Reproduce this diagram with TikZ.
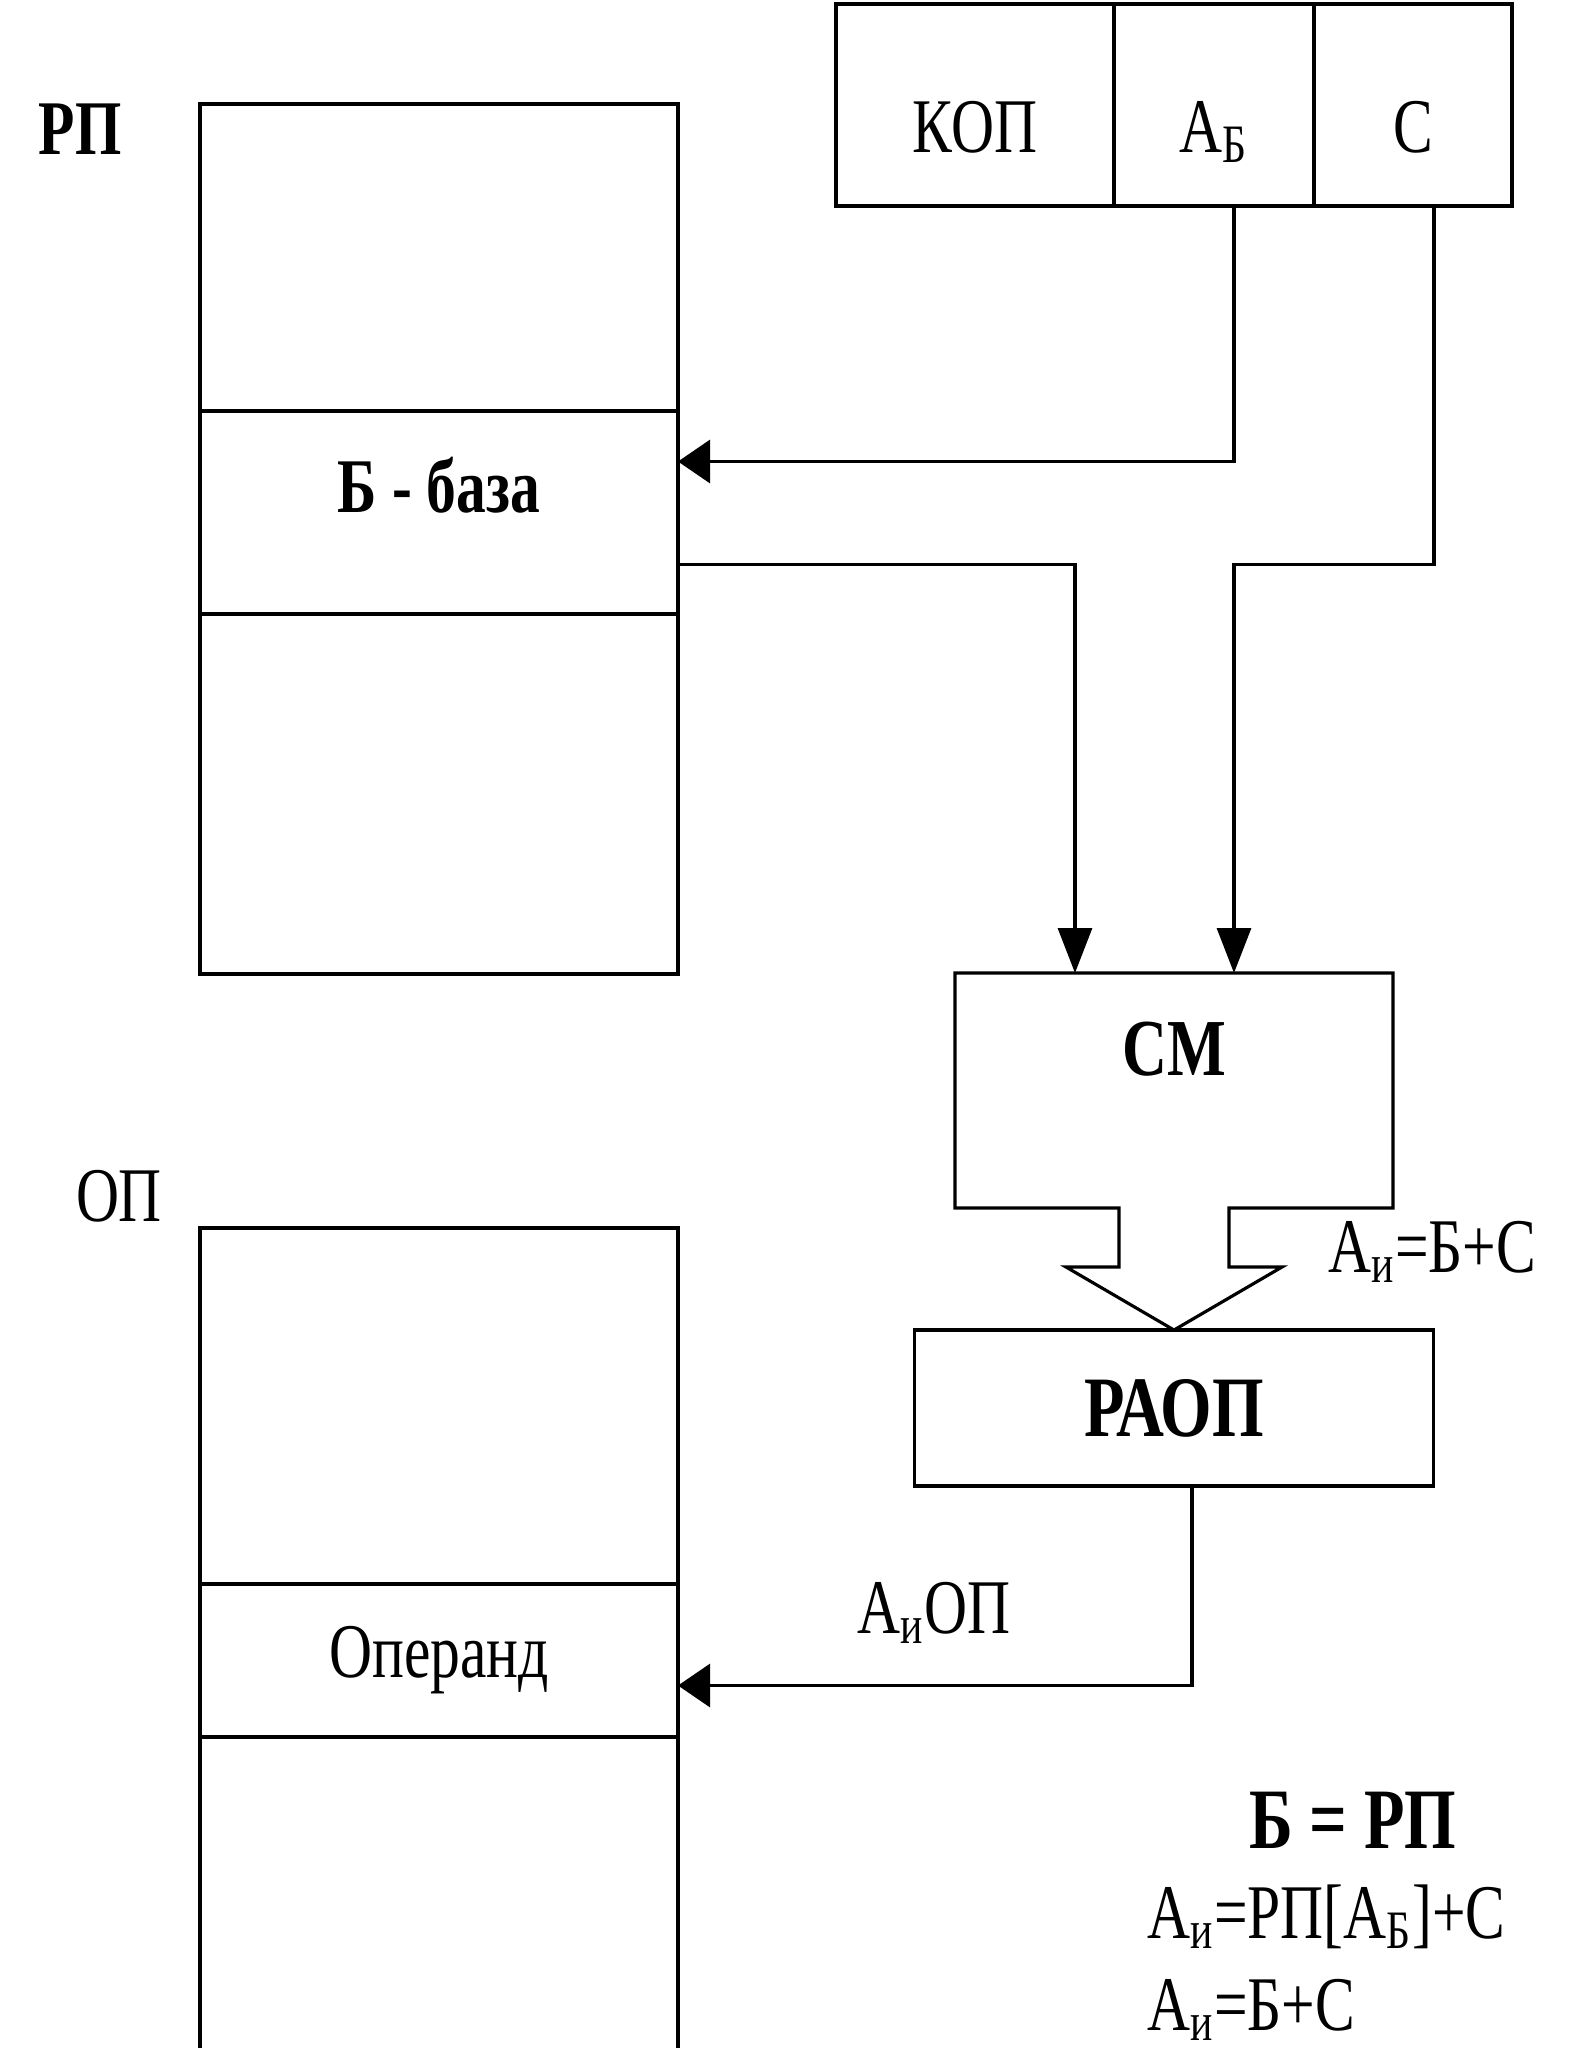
\documentclass[tikz,border=0pt]{standalone}
\usepackage{fontspec}
\setmainfont[FakeStretch=0.77]{Liberation Serif}
\usetikzlibrary{arrows.meta, positioning}

\begin{document}
\begin{tikzpicture}[every node/.style={font=\fontsize{22}{26}\selectfont, inner sep=0pt, outer sep=0pt}, bold/.style={font=\fontsize{22}{26}\selectfont\bfseries}, big/.style={font=\fontsize{24.5}{28}\selectfont\bfseries}, memcell/.style={draw, line width=0.9pt, minimum width=4.78cm}, field/.style={draw, line width=0.9pt, minimum height=2.02cm}, block/.style={draw, line width=0.9pt}, wire/.style={line width=0.9pt}, link/.style={line width=0.9pt, -{Triangle[length=0.32cm, width=0.43cm]}}, feed/.style={line width=0.9pt, -{Triangle[length=0.45cm, width=0.34cm]}}]
    \useasboundingbox (0,0) rectangle (15.92,-20.48);

    % Nodes
    \node[bold, anchor=base] (rp) at (0.80,-1.54) {РП};
    \node[memcell, minimum height=3.07cm, anchor=north west] (rptop) at (2.00,-1.04) {};
    \node[memcell, minimum height=2.03cm, below=0pt of rptop] (rpbase) {\raisebox{0pt}[0pt][0pt]{\textbf{Б - база}}};
    \node[memcell, minimum height=3.60cm, below=0pt of rpbase] (rpbot) {};

    \node[field, minimum width=2.78cm, anchor=north west] (kop) at (8.36,-0.04) {\raisebox{-0.47cm}[0pt][0pt]{КОП}};
    \node[field, minimum width=2.00cm, right=0pt of kop] (ab) {\raisebox{-0.47cm}[0pt][0pt]{А\textsubscript{Б}}};
    \node[field, minimum width=1.98cm, right=0pt of ab] (c) {\raisebox{-0.47cm}[0pt][0pt]{С}};

    \node[font=\fontsize{23}{27}\selectfont\bfseries, minimum width=4.38cm, minimum height=2.35cm, anchor=north west] (cm) at (9.55,-9.73) {\raisebox{0.15cm}[0pt][0pt]{СМ}};
    \node[block, big, minimum width=5.19cm, minimum height=1.56cm, below=1.22cm of cm] (raop) {РАОП};
    \node[anchor=base west] (sum) at (13.28,-12.72) {А\textsubscript{и}=Б+С};

    \node[anchor=base] (op) at (1.19,-12.21) {ОП};
    \node[memcell, minimum height=3.56cm, anchor=north west] (optop) at (2.00,-12.28) {};
    \node[memcell, minimum height=1.53cm, below=0pt of optop] (opmid) {Операнд};
    \node[memcell, minimum height=3.30cm, below=0pt of opmid] (opbot) {};

    \node[anchor=base] (aop) at (9.34,-16.33) {А\textsubscript{и}ОП};

    \node[big, anchor=base] (rule) at (13.53,-18.48) {Б = РП};
    \node[anchor=base west] (f1) at (11.47,-19.38) {А\textsubscript{и}=РП[А\textsubscript{Б}]+С};
    \node[anchor=base west] (f2) at (11.47,-20.30) {А\textsubscript{и}=Б+С};

    \coordinate (bout) at ([yshift=-0.52cm]rpbase.east);
    \coordinate (bin) at ([xshift=1.20cm]cm.north west);
    \coordinate (cin) at ([xshift=2.79cm]cm.north west);

    % Arrows
    \draw[link] (cin |- ab.south) |- ([yshift=0.51cm]rpbase.east);
    \draw[feed] ([xshift=0.21cm]c.south) |- (bout -| cin) -- (cin);
    \draw[feed] (bout) -| (bin);
    \draw[link] ([xshift=0.18cm]raop.south) |- ([yshift=-0.25cm]opmid.east);

    % Adder outline with its wide output arrow
    \draw[wire] (cm.north west) -- (cm.north east) -- (cm.south east) -- ([xshift=0.55cm]cm.south) -- ++(0,-0.59) -- ++(0.53,0) -- (raop.north) -- ([xshift=-1.08cm,yshift=-0.59cm]cm.south) -- ++(0.53,0) -- ([xshift=-0.55cm]cm.south) -- (cm.south west) -- cycle;
\end{tikzpicture}
\end{document}
